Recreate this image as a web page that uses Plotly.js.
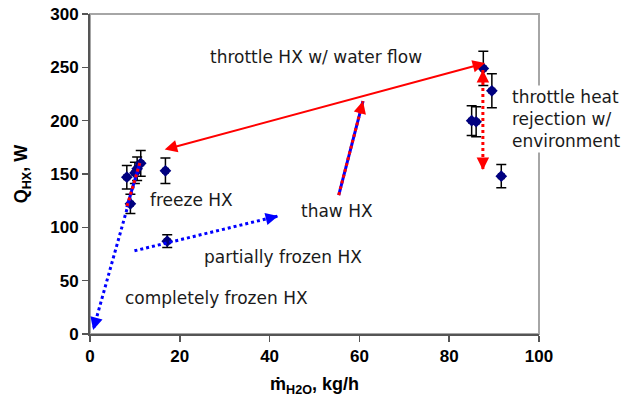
<!DOCTYPE html>
<html><head><meta charset="utf-8">
<script src="https://cdn.plot.ly/plotly-3.0.1.min.js"></script>
<style>html,body{margin:0;padding:0;background:#fff}</style>
</head><body><div id="chart" style="width:639px;height:398px"></div>
<script>
// measured points
const massFlow = [8.2, 9.0, 10.0, 10.5, 11.3, 16.8, 17.2, 85.0, 86.0, 87.6, 89.5, 91.6];
const heatRate = [147, 122, 151, 155, 160, 153, 87, 200, 199, 249, 228, 148];
const heatErr  = [11, 9, 10, 11, 12, 12, 6, 14, 14, 16, 16, 11];
const flowErr  = [0.6, 0.6, 0.6, 0.6, 0.6, 0.6, 0.6, 0.6, 0.6, 0.6, 0.6, 0.6];
const xTicks = [0, 20, 40, 60, 80, 100];
const yTicks = [0, 50, 100, 150, 200, 250, 300];

// arrows: first point = tail, second = tip
const throttleX = [16.3, 88.0], throttleY = [172.5, 254];   // solid red, double headed
const rejectX = [87.5, 87.5],   rejectY = [247.5, 153.7];   // dotted red, double headed
const frozenX = [11.1, 0.7],    frozenY = [160.3, 3.8];     // dotted blue
const freezeX = [11.1, 8.2],    freezeY = [160.3, 119];     // red/blue overlay
const partialX = [9.9, 41.9],   partialY = [78, 110.6];     // dotted blue
const thawX = [55.4, 60.8],     thawY = [130.3, 218.4];     // red/blue

// text labels
const labelText = ['throttle HX w/ water flow', 'freeze HX', 'thaw HX', 'partially frozen HX', 'completely frozen HX'];
const labelX = [50.4, 22.5, 55.0, 43.0, 28.2];
const labelY = [259.7, 125.6, 115.5, 72.2, 33.7];
const sideText = 'throttle heat<br>rejection w/<br>environment';
const sideX = 93.5, sideY = 201.6;

const W = 639, H = 398, M = {l: 90, r: 100, t: 14, b: 64};
const xRange = [0, 100], yRange = [0, 300];
const sx = (W - M.l - M.r) / (xRange[1] - xRange[0]);
const sy = (H - M.t - M.b) / (yRange[1] - yRange[0]);
const RED = '#ff0000', BLUE = '#0000ff';
const txtFont = {family: 'DejaVu Sans, Verdana, sans-serif', size: 17, color: '#1a1a1a'};

function head(x0, y0, x1, y1, color) {
  const dx = (x1 - x0) * sx, dy = -(y1 - y0) * sy;
  const len = Math.hypot(dx, dy);
  const L = 9;
  return {x: x1, y: y1, xref: 'x', yref: 'y', text: '', showarrow: true,
    ax: -dx / len * L, ay: -dy / len * L, arrowhead: 2, arrowsize: 1.25,
    arrowwidth: 2, arrowcolor: color, standoff: 0};
}
function line(xs, ys, color, dash, width) {
  return {x: xs, y: ys, type: 'scatter', mode: 'lines', hoverinfo: 'skip',
    showlegend: false, line: {color: color, width: width || 3, dash: dash || 'solid'}};
}

const traces = [
  {x: massFlow, y: heatRate, type: 'scatter', mode: 'markers', showlegend: false,
   marker: {symbol: 'diamond', size: 9, color: '#000080'},
   error_y: {type: 'data', array: heatErr, color: '#000000', thickness: 1.5, width: 5},
   error_x: {type: 'data', array: flowErr, color: '#000000', thickness: 1.5, width: 3}},
  line(frozenX, frozenY, BLUE, 'dot'),
  line(freezeX, freezeY, BLUE, 'solid'),
  line(freezeX, freezeY, RED, 'dot'),
  line(partialX, partialY, BLUE, 'dot'),
  line(thawX, thawY, BLUE, 'solid'),
  line(thawX, thawY, RED, 'dot'),
  line(rejectX, rejectY, RED, 'dot')
];

const annotations = labelText.map((t, i) => ({x: labelX[i], y: labelY[i], xref: 'x', yref: 'y',
  text: t, showarrow: false, font: txtFont, xanchor: 'center', yanchor: 'middle'}));
annotations.push({x: sideX, y: sideY, xref: 'x', yref: 'y', text: sideText, showarrow: false,
  font: txtFont, xanchor: 'left', yanchor: 'middle', align: 'left', bgcolor: '#ffffff'});
annotations.push({x: throttleX[1], y: throttleY[1], ax: throttleX[0], ay: throttleY[0],
  xref: 'x', yref: 'y', axref: 'x', ayref: 'y', text: '', showarrow: true,
  arrowside: 'end+start', arrowhead: 2, startarrowhead: 2, arrowsize: 1.25, startarrowsize: 1.25,
  arrowwidth: 2, arrowcolor: RED, standoff: 0, startstandoff: 0});
annotations.push(head(rejectX[0], rejectY[0], rejectX[1], rejectY[1], RED));
annotations.push(head(rejectX[1], rejectY[1], rejectX[0], rejectY[0], RED));
annotations.push(head(frozenX[0], frozenY[0], frozenX[1], frozenY[1], BLUE));
annotations.push(head(partialX[0], partialY[0], partialX[1], partialY[1], BLUE));
annotations.push(head(thawX[0], thawY[0], thawX[1], thawY[1], RED));

const axFont = {family: 'Liberation Sans, Arial, sans-serif', size: 17, color: '#000', weight: 'bold'};
const titleFont = {family: 'Liberation Sans, Arial, sans-serif', size: 18, color: '#000', weight: 'bold'};
const layout = {
  width: W, height: H, margin: M, paper_bgcolor: '#fff', plot_bgcolor: '#fff',
  showlegend: false,
  xaxis: {range: xRange, tickvals: xTicks, ticktext: xTicks.map(String), showgrid: false, zeroline: false,
    showline: true, linecolor: '#555', linewidth: 2, ticks: 'outside', ticklen: 6, tickwidth: 1.5, tickcolor: '#555',
    tickfont: axFont, fixedrange: true,
    title: {text: 'ṁ<sub>H2O</sub>, kg/h', font: titleFont, standoff: 12}},
  yaxis: {range: yRange, tickvals: yTicks, ticktext: yTicks.map(String), showgrid: false, zeroline: false,
    showline: true, linecolor: '#555', linewidth: 2, ticks: 'outside', ticklen: 6, tickwidth: 1.5, tickcolor: '#555',
    tickfont: axFont, fixedrange: true,
    title: {text: 'Q<sub>HX</sub>, W', font: titleFont, standoff: 18}},
  shapes: [{type: 'rect', xref: 'paper', yref: 'paper', x0: 0, x1: 1, y0: 0, y1: 1,
    line: {color: '#a6a6a6', width: 2}, layer: 'below'}],
  annotations: annotations
};
Plotly.newPlot('chart', traces, layout, {displayModeBar: false, staticPlot: true});
</script></body></html>
